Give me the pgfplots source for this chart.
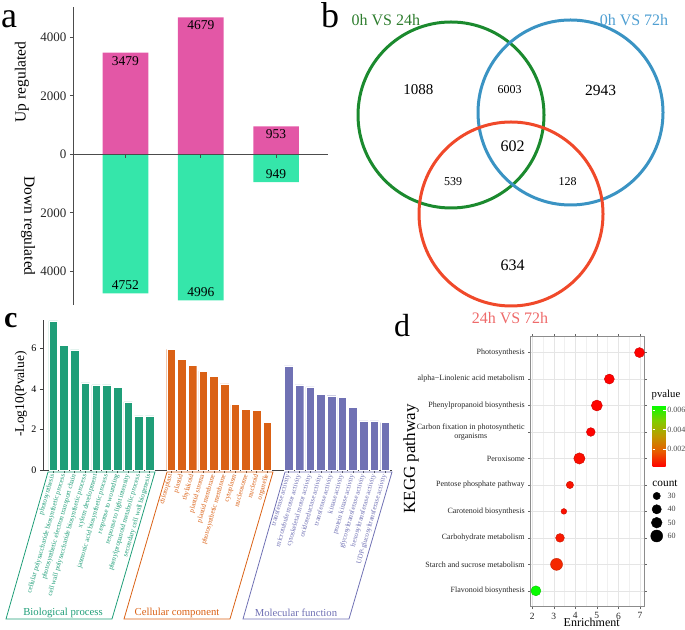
\documentclass[border=0pt]{standalone}
\usepackage{pgfplots}
\pgfplotsset{compat=1.18}
\usepackage{fontspec}
\setmainfont{Liberation Serif}
\definecolor{upc}{HTML}{E357A6}
\definecolor{dnc}{HTML}{35E6AA}
\definecolor{bpc}{HTML}{1F9E78}
\definecolor{ccc}{HTML}{DA6115}
\definecolor{mfc}{HTML}{7071B4}
\definecolor{vg}{HTML}{1B8A2E}
\definecolor{vb}{HTML}{3A93C3}
\definecolor{vr}{HTML}{F0492A}
\definecolor{vgt}{HTML}{2E7D2E}
\definecolor{vbt}{HTML}{4F9FD2}
\definecolor{vrt}{HTML}{EE6A6A}
\pgfplotsset{/pgf/number format/assume math mode=true}
\pgfplotstableread{
e k r p
6.98 10 5.0 0.00018
5.58 9 5.0 0.00018
5.00 8 5.5 0.00025
4.72 7 4.35 0.00020
4.19 6 5.65 0.00040
3.75 5 3.65 0.00050
3.47 4 2.85 0.00045
3.29 3 4.35 0.00060
3.13 2 6.0 0.00085
2.17 1 5.0 0.0064
}\keggtab
\begin{document}
\begin{tikzpicture}[x=1pt,y=1pt]
\useasboundingbox (0,0) rectangle (685,629);
% ---------------- panel a
\begin{axis}[
  at={(73.3pt,324pt)}, anchor=south west, scale only axis,
  width=254.7pt, height=298pt,
  xmin=-0.693, xmax=2.69, ymin=-5152, ymax=5036,
  axis y line=left, axis x line=middle, axis on top,
  axis line style={-, draw=black!70, line width=0.8pt},
  ytick={-4000,-2000,0,2000,4000},
  yticklabels={{4000},{2000},{0},{2000},{4000}},
  xtick={0,1,2}, xticklabels={},
  tick align=outside, major tick length=3.5pt,
  tick style={draw=black!70, line width=0.8pt},
  y tick label style={font=\fontsize{13}{14}\selectfont, text=black!85},
  clip=false,
]
\addplot[ybar, bar width=45.6pt, bar shift=0pt, fill=upc, draw=none,
  point meta=explicit symbolic, nodes near coords, nodes near coords align={below},
  every node near coord/.append style={font=\fontsize{13.5}{15}\selectfont, text=black}]
  coordinates {(0,3479)[3479] (1,4679)[4679] (2,953)[953]};
\addplot[ybar, bar width=45.6pt, bar shift=0pt, fill=dnc, draw=none,
  point meta=explicit symbolic, nodes near coords, nodes near coords align={above},
  every node near coord/.append style={font=\fontsize{13.5}{15}\selectfont, text=black}]
  coordinates {(0,-4752)[4752] (1,-4996)[4996] (2,-949)[949]};
\end{axis}
\node[rotate=90, font=\fontsize{15.5}{17}\selectfont] at (22,547) {Up regulated};
\node[rotate=-90, font=\fontsize{15.5}{17}\selectfont] at (28,403) {Down regulated};
% ---------------- panel c
\begin{axis}[
  at={(43pt,159pt)}, anchor=south west, scale only axis,
  width=349pt, height=150pt,
  xmin=-0.96, xmax=31.65, ymin=0, ymax=7.41,
  axis x line=bottom, axis y line=left,
  axis line style={-, draw=black!75, line width=0.6pt},
  tick align=outside, major tick length=3pt,
  tick style={draw=black!75, line width=0.6pt},
  ytick={0,2,4,6},
  y tick label style={font=\fontsize{10}{11}\selectfont},
  xtick={0,1,2,3,4,5,6,7,8,9,11,12,13,14,15,16,17,18,19,20,22,23,24,25,26,27,28,29,30,31},
  xticklabels={
    \textcolor{bpc}{photosynthesis},
    \textcolor{bpc}{cellular polysaccharide biosynthetic process},
    \textcolor{bpc}{photosynthetic electron transport chain},
    \textcolor{bpc}{cell wall polysaccharide biosynthetic process},
    \textcolor{bpc}{xylem development},
    \textcolor{bpc}{jasmonic acid biosynthetic process},
    \textcolor{bpc}{response to wounding},
    \textcolor{bpc}{response to light intensity},
    \textcolor{bpc}{phenylpropanoid metabolic process},
    \textcolor{bpc}{secondary cell wall biogenesis},
    \textcolor{ccc}{chloroplast},
    \textcolor{ccc}{plastid},
    \textcolor{ccc}{thylakoid},
    \textcolor{ccc}{plastid stroma},
    \textcolor{ccc}{plastid membrane},
    \textcolor{ccc}{photosynthetic membrane},
    \textcolor{ccc}{cytoplasm},
    \textcolor{ccc}{nucleosome},
    \textcolor{ccc}{nucleoid},
    \textcolor{ccc}{organelle},
    \textcolor{mfc}{transferase activity},
    \textcolor{mfc}{microtubule motor activity},
    \textcolor{mfc}{cytoskeletal motor activity},
    \textcolor{mfc}{oxidoreductase activity},
    \textcolor{mfc}{transferase activity},
    \textcolor{mfc}{kinase activity},
    \textcolor{mfc}{protein kinase activity},
    \textcolor{mfc}{glycosyltransferase activity},
    \textcolor{mfc}{hexosyltransferase activity},
    \textcolor{mfc}{UDP-glucosyltransferase activity}},
  x tick label style={rotate=74, anchor=east, font=\fontsize{7}{8}\selectfont, inner sep=1.5pt},
  clip=false,
]
\addplot[ybar, bar width=8.6pt, bar shift=0pt, fill=bpc, draw=white, line width=0.4pt]
  coordinates {(0,7.37) (1,6.16) (2,5.93) (3,4.31) (4,4.21) (5,4.21) (6,4.10) (7,3.37) (8,2.67) (9,2.67)};
\addplot[ybar, bar width=8.6pt, bar shift=0pt, fill=ccc, draw=white, line width=0.4pt]
  coordinates {(11,5.96) (12,5.48) (13,5.18) (14,4.89) (15,4.64) (16,4.26) (17,3.23) (18,2.98) (19,2.95) (20,2.37)};
\addplot[ybar, bar width=8.6pt, bar shift=0pt, fill=mfc, draw=white, line width=0.4pt]
  coordinates {(22,5.14) (23,4.20) (24,4.11) (25,3.74) (26,3.67) (27,3.59) (28,3.11) (29,2.43) (30,2.43) (31,2.34)};
\end{axis}
\node[rotate=90, font=\fontsize{13.5}{15}\selectfont] at (21,235) {-Log10(Pvalue)};
\draw[bpc, line width=0.8pt] (48,157) -- (155,157) -- (112,10) -- (6,10) -- cycle;
\draw[ccc, line width=0.8pt] (167,157) -- (273,157) -- (230,10) -- (124,10) -- cycle;
\draw[mfc, line width=0.8pt] (285,157) -- (392,157) -- (349,10) -- (243,10) -- cycle;
\node[text=bpc, font=\fontsize{10.7}{12}\selectfont] at (63,16) {Biological process};
\node[text=ccc, font=\fontsize{10.7}{12}\selectfont] at (177,16) {Cellular component};
\node[text=mfc, font=\fontsize{10.7}{12}\selectfont] at (296,16) {Molecular function};
% ---------------- panel d
\begin{axis}[
  at={(530.7pt,22.3pt)}, anchor=south west, scale only axis,
  width=113.3pt, height=270pt,
  xmin=1.93, xmax=7.19, ymin=0.4, ymax=10.6,
  xtick={2,3,4,5,6,7}, ytick={1,2,3,4,5,6,7,8,9,10},
  yticklabels={Flavonoid biosynthesis, Starch and sucrose metabolism, Carbohydrate metabolism,
    Carotenoid biosynthesis, Pentose phosphate pathway, Peroxisome,
    {Carbon fixation in photosynthetic\\organisms}, Phenylpropanoid biosynthesis,
    alpha−Linolenic acid metabolism, Photosynthesis},
  y tick label style={font=\fontsize{8}{9}\selectfont, align=center, text=black!85},
  x tick label style={font=\fontsize{9.5}{10}\selectfont, text=black!85},
  minor x tick num=1, minor y tick num=0, grid=both,
  major grid style={draw=black!10, line width=0.5pt},
  minor grid style={draw=black!6, line width=0.3pt},
  tick align=outside, major tick length=2.5pt, minor tick length=0pt,
  tick style={draw=black!60, line width=0.5pt},
  axis line style={draw=black!45, line width=0.6pt},
  colormap={pv}{rgb255(0)=(255,0,0); rgb255(1)=(232,92,0); rgb255(2)=(190,152,0); rgb255(3)=(128,205,0); rgb255(4)=(0,255,0)},
  point meta min=0.00017, point meta max=0.0065,
  colorbar,
  colorbar style={
    at={(parent axis.north east)}, anchor=north west, xshift=0pt, yshift=-68.3pt,
    scale only axis, width=13pt, height=62pt,
    scaled y ticks=false,
    ytick={0.002,0.004,0.006}, yticklabels={{0.002},{0.004},{0.006}},
    yticklabel style={font=\fontsize{8}{9}\selectfont, text=black!70, inner sep=1.5pt},
    axis line style={draw=none}, tick style={draw=white, line width=0.6pt},
    major tick length=2.5pt,
  },
  clip=false,
]
\addplot[scatter, only marks, mark=*, scatter src=explicit,
  visualization depends on={\thisrow{r} \as \rr},
  scatter/@pre marker code/.append style={/tikz/mark size=\rr}]
  table[x=e, y=k, meta=p] {\keggtab};
\end{axis}
\node[font=\fontsize{12}{13}\selectfont] at (591.7,6.3) {Enrichment};
\node[rotate=90, font=\fontsize{17}{18}\selectfont] at (411,170) {KEGG pathway};
\node[font=\fontsize{10.7}{12}\selectfont] at (666,234) {pvalue};
\node[font=\fontsize{11.3}{12}\selectfont] at (665,146) {count};
% ---------------- overlay: Venn + count legend
\begin{axis}[
  at={(0pt,0pt)}, anchor=south west, scale only axis,
  width=685pt, height=629pt, xmin=0, xmax=685, ymin=0, ymax=629,
  hide axis, clip=false,
]
\draw[vg, line width=3pt] (axis cs:451,514) circle[radius=93];
\draw[vb, line width=3pt] (axis cs:570.5,516.5) circle[radius=92.5];
\draw[vr, line width=3pt] (axis cs:511,415) circle[radius=92];
\node[text=vgt, font=\fontsize{16}{17}\selectfont] at (axis cs:385.8,609) {0h VS 24h};
\node[text=vbt, font=\fontsize{16}{17}\selectfont] at (axis cs:634,609) {0h VS 72h};
\node[text=vrt, font=\fontsize{16}{17}\selectfont] at (axis cs:510,311) {24h VS 72h};
\node[font=\fontsize{15}{16}\selectfont] at (axis cs:418.3,539) {1088};
\node[font=\fontsize{12}{13}\selectfont] at (axis cs:509.5,539) {6003};
\node[font=\fontsize{15.5}{16}\selectfont] at (axis cs:600.5,539) {2943};
\node[font=\fontsize{16}{17}\selectfont] at (axis cs:512.7,483) {602};
\node[font=\fontsize{12}{13}\selectfont] at (axis cs:453,447) {539};
\node[font=\fontsize{12}{13}\selectfont] at (axis cs:567.7,447) {128};
\node[font=\fontsize{16}{17}\selectfont] at (axis cs:512.7,364) {634};
\addplot[only marks, mark=*, black, mark size=3.65pt] coordinates {(656.7,133)};
\addplot[only marks, mark=*, black, mark size=4.65pt] coordinates {(656.7,119.7)};
\addplot[only marks, mark=*, black, mark size=5.35pt] coordinates {(656.7,106.3)};
\addplot[only marks, mark=*, black, mark size=6.0pt] coordinates {(656.7,93)};
\node[anchor=west, font=\fontsize{8}{9}\selectfont, text=black!75] at (axis cs:664,133) {30};
\node[anchor=west, font=\fontsize{8}{9}\selectfont, text=black!75] at (axis cs:664,119.7) {40};
\node[anchor=west, font=\fontsize{8}{9}\selectfont, text=black!75] at (axis cs:664,106.3) {50};
\node[anchor=west, font=\fontsize{8}{9}\selectfont, text=black!75] at (axis cs:664,93) {60};
\end{axis}
% panel letters
\node[anchor=base west, inner sep=0pt, font=\fontsize{36}{38}\selectfont] at (1,601) {a};
\node[anchor=base west, inner sep=0pt, font=\fontsize{36}{38}\selectfont] at (321,601) {b};
\node[anchor=base west, inner sep=0pt, font=\fontsize{30}{32}\bfseries] at (4,301) {c};
\node[anchor=base west, inner sep=0pt, font=\fontsize{32}{34}\selectfont] at (394,292) {d};
\end{tikzpicture}
\end{document}
